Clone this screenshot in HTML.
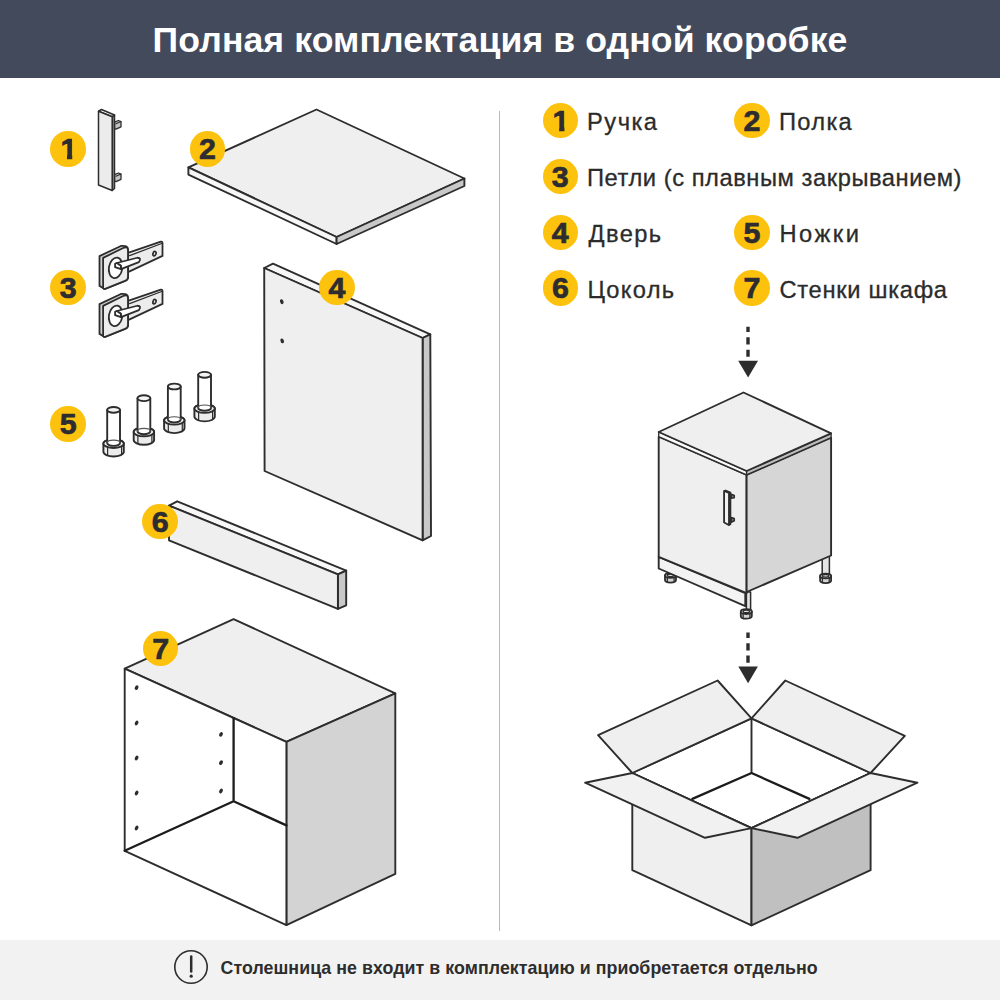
<!DOCTYPE html>
<html lang="ru">
<head>
<meta charset="utf-8">
<title>Полная комплектация в одной коробке</title>
<style>
html,body{margin:0;padding:0;}
body{width:1000px;height:1000px;position:relative;overflow:hidden;background:#fff;font-family:"Liberation Sans",sans-serif;color:#2b2b2b;}
.hdr{position:absolute;left:0;top:0;width:1000px;height:78px;background:#434a5c;}
.hdr h1{position:absolute;left:0;top:0;width:1000px;margin:0;text-align:center;color:#fff;font-weight:bold;font-size:35.6px;line-height:81.5px;letter-spacing:0.1px;}
.ftr{position:absolute;left:0;top:940px;width:1000px;height:60px;background:#f2f2f2;}
.ftr p{position:absolute;left:220.5px;top:0;margin:0;font-weight:bold;font-size:17.8px;line-height:57px;color:#2d2d2d;white-space:nowrap;letter-spacing:0.06px;}
.divider{position:absolute;left:499px;top:111px;width:1px;height:820px;background:#b8b8b8;}
.badge{position:absolute;width:35.4px;height:35.4px;margin:-17.7px 0 0 -17.7px;border-radius:50%;background:#fcc20e;color:#2c2c31;font-weight:bold;font-size:30.4px;line-height:35px;text-align:center;-webkit-text-stroke:0.7px #2c2c31;}
.badge .d1{display:inline-block;height:35px;margin-left:1.5px;clip-path:polygon(0 0,70% 0,70% 100%,39% 100%,39% 23.8px,0 23.8px);}
.lbl{position:absolute;font-size:23.7px;line-height:28px;color:#2b2b2b;white-space:nowrap;letter-spacing:0.56px;margin-left:-2px;-webkit-text-stroke:0.3px #2b2b2b;}
svg.art{position:absolute;left:0;top:0;}
</style>
</head>
<body>
<div class="hdr"><h1>Полная комплектация в одной коробке</h1></div>
<div class="divider"></div>

<svg class="art" width="1000" height="1000" viewBox="0 0 1000 1000" fill="none" stroke="#2d2d2d" stroke-width="1.9" stroke-linejoin="round" stroke-linecap="round">
<!--ARTL-->
<!-- 1 handle -->
<g id="handle" stroke-width="1.5">
<path d="M114.5 122.2 L118.5 120.5 L121 121.5 L121 126.8 L116 129.2 L114.5 128.5 Z" fill="#c4c4c4" stroke-width="1.3"/>
<path d="M116 123.8 L121 121.6" stroke-width="1.1"/>
<path d="M114.5 174.7 L118.5 173 L121 174 L121 179.3 L116 181.7 L114.5 181 Z" fill="#c4c4c4" stroke-width="1.3"/>
<path d="M116 176.3 L121 174.1" stroke-width="1.1"/>
<path d="M98.5 111.2 L101.5 109.5 L114.5 115 L112.2 116.8 Z" fill="#f4f4f4"/>
<path d="M112.2 116.8 L114.5 115 L114.5 188.5 L112.2 190.5 Z" fill="#8c8c8c"/>
<path d="M98.5 111.2 L112.2 116.8 L112.2 190.5 L98.5 185 Z" fill="#ececec"/>
</g>
<!-- 2 shelf -->
<g id="shelf">
<path d="M188.4 167.4 L316.5 109.5 L464.4 178.5 L336.6 237 Z" fill="#efefef"/>
<path d="M188.4 167.4 L336.6 237 L336.6 244 L188.4 174.6 Z" fill="#f7f7f7"/>
<path d="M336.6 237 L464.4 178.5 L464.4 186 L336.6 244 Z" fill="#c8c8c8"/>
</g>
<!-- 4 door -->
<g id="door">
<path d="M264.2 268 L273 263.6 L430.3 334.3 L422.6 338 Z" fill="#f7f7f7"/>
<path d="M422.6 338 L430.3 334.3 L431 536 L422.6 540.3 Z" fill="#c8c8c8"/>
<path d="M264.2 268 L422.6 338 L422.6 540.3 L264.6 471 Z" fill="#efefef"/>
<ellipse cx="281.8" cy="301.7" rx="1.7" ry="2.5" fill="#2d2d2d" stroke="none" transform="rotate(-20 281.8 301.7)"/>
<ellipse cx="282.2" cy="340.9" rx="1.7" ry="2.5" fill="#2d2d2d" stroke="none" transform="rotate(-20 282.2 340.9)"/>
</g>
<!-- 6 plinth -->
<g id="plinth">
<path d="M169 505.6 L177.2 501.3 L346.2 570.6 L337.9 574.3 Z" fill="#f7f7f7"/>
<path d="M337.9 574.3 L346.2 570.6 L346.2 605.3 L337.9 608.9 Z" fill="#c8c8c8"/>
<path d="M169 505.6 L337.9 574.3 L337.9 608.9 L169 540.3 Z" fill="#efefef"/>
</g>
<!-- 7 carcass -->
<g id="carcass">
<path d="M124.7 668.6 L233.6 619.1 L395.3 693.4 L286.4 741.9 Z" fill="#efefef"/>
<path d="M286.4 741.9 L395.3 693.4 L395.3 873.9 L286.4 925.1 Z" fill="#d3d3d3"/>
<path d="M124.7 668.6 L286.4 741.9 L286.4 925.1 L124.7 850.8 Z" fill="#ffffff"/>
<path d="M233.6 718.2 L233.6 801.3 M124.7 850.8 L233.6 801.3 L286.4 825.4" stroke-width="2.3" stroke="#1c1c1c"/>
<g fill="#2d2d2d" stroke="none">
<ellipse cx="136.6" cy="687.6" rx="1.7" ry="2.5" transform="rotate(28 136.6 687.6)"/><ellipse cx="136.6" cy="723.0" rx="1.7" ry="2.5" transform="rotate(28 136.6 723.0)"/><ellipse cx="136.6" cy="758.0" rx="1.7" ry="2.5" transform="rotate(28 136.6 758.0)"/><ellipse cx="136.6" cy="793.0" rx="1.7" ry="2.5" transform="rotate(28 136.6 793.0)"/><ellipse cx="136.6" cy="828.0" rx="1.7" ry="2.5" transform="rotate(28 136.6 828.0)"/><ellipse cx="221.0" cy="734.4" rx="1.7" ry="2.5" transform="rotate(28 221.0 734.4)"/><ellipse cx="221.0" cy="762.6" rx="1.7" ry="2.5" transform="rotate(28 221.0 762.6)"/><ellipse cx="221.0" cy="791.0" rx="1.7" ry="2.5" transform="rotate(28 221.0 791.0)"/>
</g>
</g>
<!-- 3 hinges -->
<g id="hinges" stroke-width="1.8">
<path d="M128.00 252.88 L160.85 241.63 Q162.50 241.25 162.50 243.13 L162.50 255.88 L128.00 272.15 Z" fill="#ececec"/>
<path d="M129.65 255.65 L161.60 243.50" stroke-width="1.3"/>
<ellipse cx="154.48" cy="253.63" rx="1.5" ry="2.3" fill="#e4e4e4" stroke-width="1.7" transform="rotate(18 154.48 253.63)"/>
<path d="M99.50 256.10 L120.88 245.98 Q128.00 245.00 128.00 249.50 L128.00 276.88 Q128.00 279.88 125.00 280.85 L104.75 288.95 L99.50 285.88 Z" fill="#cfcfcf"/>
<path d="M103.10 257.90 L123.13 248.00 Q128.00 245.75 128.00 250.63 L128.00 276.88 Q128.00 279.88 125.00 280.85 L105.13 288.80 Q103.10 289.40 103.10 287.38 Z" fill="#ececec"/>
<ellipse cx="115.63" cy="267.88" rx="6.7" ry="10.3" fill="#fff" transform="rotate(10 115.63 267.88)"/>
<path d="M116.75 263.00 L137.38 257.75 Q141.88 257.75 138.88 262.10 L120.88 269.15 L120.88 265.85 Z" fill="#fff"/>
<path d="M116.75 263.00 L120.88 265.85 L120.88 269.15 L115.10 267.13 L115.10 263.75 Z" fill="#fff"/>
<path d="M128.00 300.88 L160.85 289.63 Q162.50 289.25 162.50 291.13 L162.50 303.88 L128.00 320.15 Z" fill="#ececec"/>
<path d="M129.65 303.65 L161.60 291.50" stroke-width="1.3"/>
<ellipse cx="154.48" cy="301.63" rx="1.5" ry="2.3" fill="#e4e4e4" stroke-width="1.7" transform="rotate(18 154.48 301.63)"/>
<path d="M99.50 304.10 L120.88 293.98 Q128.00 293.00 128.00 297.50 L128.00 324.88 Q128.00 327.88 125.00 328.85 L104.75 336.95 L99.50 333.88 Z" fill="#cfcfcf"/>
<path d="M103.10 305.90 L123.13 296.00 Q128.00 293.75 128.00 298.63 L128.00 324.88 Q128.00 327.88 125.00 328.85 L105.13 336.80 Q103.10 337.40 103.10 335.38 Z" fill="#ececec"/>
<ellipse cx="115.63" cy="315.88" rx="6.7" ry="10.3" fill="#fff" transform="rotate(10 115.63 315.88)"/>
<path d="M116.75 311.00 L137.38 305.75 Q141.88 305.75 138.88 310.10 L120.88 317.15 L120.88 313.85 Z" fill="#fff"/>
<path d="M116.75 311.00 L120.88 313.85 L120.88 317.15 L115.10 315.13 L115.10 311.75 Z" fill="#fff"/>
</g>
<!-- 5 legs -->
<g id="legs">
<path d="M194.4 408.6 L194.4 416.6 A10.2 4.8 0 0 0 214.8 416.6 L214.8 408.6 A10.2 4.3 0 0 0 194.4 408.6 Z" fill="#ececec"/>
<ellipse cx="204.6" cy="408.6" rx="10.2" ry="4.3" fill="#f4f4f4"/>
<path d="M198.6 412.1 v8 M212.6 411.4 v8" stroke-width="1.2"/>
<path d="M198.2 374.8 L198.2 407.9 A6.4 2.9 0 0 0 211.0 407.9 L211.0 374.8 Z" fill="#fff"/>
<ellipse cx="204.6" cy="374.8" rx="6.4" ry="2.9" fill="#f4f4f4"/>
<path d="M198.2 407.9 A6.4 2.9 0 0 1 211.0 407.9" stroke-width="1.1" stroke="#555"/>
<path d="M164.1 420.3 L164.1 428.3 A10.2 4.8 0 0 0 184.5 428.3 L184.5 420.3 A10.2 4.3 0 0 0 164.1 420.3 Z" fill="#ececec"/>
<ellipse cx="174.3" cy="420.3" rx="10.2" ry="4.3" fill="#f4f4f4"/>
<path d="M168.3 423.8 v8 M182.3 423.1 v8" stroke-width="1.2"/>
<path d="M167.9 386.5 L167.9 419.6 A6.4 2.9 0 0 0 180.7 419.6 L180.7 386.5 Z" fill="#fff"/>
<ellipse cx="174.3" cy="386.5" rx="6.4" ry="2.9" fill="#f4f4f4"/>
<path d="M167.9 419.6 A6.4 2.9 0 0 1 180.7 419.6" stroke-width="1.1" stroke="#555"/>
<path d="M133.7 432.0 L133.7 440.0 A10.2 4.8 0 0 0 154.1 440.0 L154.1 432.0 A10.2 4.3 0 0 0 133.7 432.0 Z" fill="#ececec"/>
<ellipse cx="143.9" cy="432.0" rx="10.2" ry="4.3" fill="#f4f4f4"/>
<path d="M137.9 435.5 v8 M151.9 434.8 v8" stroke-width="1.2"/>
<path d="M137.5 398.2 L137.5 431.3 A6.4 2.9 0 0 0 150.3 431.3 L150.3 398.2 Z" fill="#fff"/>
<ellipse cx="143.9" cy="398.2" rx="6.4" ry="2.9" fill="#f4f4f4"/>
<path d="M137.5 431.3 A6.4 2.9 0 0 1 150.3 431.3" stroke-width="1.1" stroke="#555"/>
<path d="M103.4 443.7 L103.4 451.7 A10.2 4.8 0 0 0 123.8 451.7 L123.8 443.7 A10.2 4.3 0 0 0 103.4 443.7 Z" fill="#ececec"/>
<ellipse cx="113.6" cy="443.7" rx="10.2" ry="4.3" fill="#f4f4f4"/>
<path d="M107.6 447.2 v8 M121.6 446.5 v8" stroke-width="1.2"/>
<path d="M107.2 409.9 L107.2 443.0 A6.4 2.9 0 0 0 120.0 443.0 L120.0 409.9 Z" fill="#fff"/>
<ellipse cx="113.6" cy="409.9" rx="6.4" ry="2.9" fill="#f4f4f4"/>
<path d="M107.2 443.0 A6.4 2.9 0 0 1 120.0 443.0" stroke-width="1.1" stroke="#555"/>
</g>
<!--/ARTL-->
<!--ARTR-->
<!-- arrows -->
<g id="arrows" stroke="#2d2d2d" stroke-width="3.4" stroke-linecap="butt">
<path d="M748 356.8 L748 326.8" stroke-dasharray="7.1 5.3"/>
<path d="M738.2 360.8 L758 360.8 L748.1 377.4 Z" fill="#2d2d2d" stroke="none"/>
<path d="M748 662.8 L748 632.4" stroke-dasharray="7.2 5.2"/>
<path d="M738.3 666.4 L757.9 666.4 L748.1 683.3 Z" fill="#2d2d2d" stroke="none"/>
</g>
<!-- assembled cabinet -->
<g id="cabinet">
<!-- legs -->
<g id="cablegs">
<path d="M667.5 566.0 V575.5 H673.5 V566.0 Z" fill="#e4e4e4" stroke-width="1.5"/>
<path d="M665.0 575.5 v4.6 a5.5 2.5 0 0 0 11.0 0 v-4.6 Z" fill="#d4d4d4" stroke-width="1.8"/>
<ellipse cx="670.5" cy="575.5" rx="5.5" ry="2.4" fill="#e6e6e6" stroke-width="1.8"/>
<ellipse cx="670.5" cy="575.3" rx="3.3" ry="1.3" fill="none" stroke-width="1.3"/>
<path d="M667.3 577.5 v4.4 M674.1 577.3 v4.4" stroke-width="1.3"/>
<path d="M822.2 555.0 V576.0 H829.4 V555.0 Z" fill="#e4e4e4" stroke-width="1.5"/>
<path d="M820.1 576.0 v4.6 a5.5 2.5 0 0 0 11.0 0 v-4.6 Z" fill="#d4d4d4" stroke-width="1.8"/>
<ellipse cx="825.6" cy="576.0" rx="5.5" ry="2.4" fill="#e6e6e6" stroke-width="1.8"/>
<ellipse cx="825.6" cy="575.8" rx="3.3" ry="1.3" fill="none" stroke-width="1.3"/>
<path d="M822.4 578.0 v4.4 M829.2 577.8 v4.4" stroke-width="1.3"/>
<path d="M746.4 592.0 V611.6 H750.6 V592.0 Z" fill="#e4e4e4" stroke-width="1.5"/>
<path d="M740.8 611.6 v4.6 a5.5 2.5 0 0 0 11.0 0 v-4.6 Z" fill="#d4d4d4" stroke-width="1.8"/>
<ellipse cx="746.3" cy="611.6" rx="5.5" ry="2.4" fill="#e6e6e6" stroke-width="1.8"/>
<ellipse cx="746.3" cy="611.4" rx="3.3" ry="1.3" fill="none" stroke-width="1.3"/>
<path d="M743.1 613.6 v4.4 M749.9 613.4 v4.4" stroke-width="1.3"/>
</g>
<!-- plinth -->
<path d="M658.7 556.8 L745.3 593.2 L745.3 606.2 L658.7 568.5 Z" fill="#f3f3f3"/>
<!-- front door -->
<path d="M658.7 436.7 L746.6 474.9 L746.6 593.2 L658.7 556.8 Z" fill="#efefef"/>
<!-- right side -->
<path d="M746.6 474.9 L831.1 437.7 L831.1 555.5 L746.6 592 Z" fill="#d6d6d6"/>
<!-- top thickness -->
<path d="M658.7 432 L746.6 471 L746.6 474.9 L658.7 436.7 Z" fill="#fafafa" stroke-width="1.3"/>
<path d="M746.6 471 L831.1 433.3 L831.1 437.7 L746.6 474.9 Z" fill="#bdbdbd" stroke-width="1.3"/>
<!-- top -->
<path d="M658.7 432 L743.5 392.5 L831.1 433.3 L746.6 471 Z" fill="#efefef"/>
<!-- handle -->
<path d="M731.2 494.2 L734.3 495.5 L734.3 497.7 L731.2 498.2 Z M731.2 517.6 L734.3 518.4 L734.3 520.8 L731.2 522.2 Z" fill="#777" stroke-width="1.5"/>
<path d="M724.2 491 L725.6 490.4 L730.5 492.4 L730.5 524.2 L728.9 525 L724.2 522.4 Z" fill="#3a3a3a" stroke-width="1.6"/>
<path d="M724.2 491 L728.9 493 L728.9 525 L724.2 522.4 Z" fill="#f2f2f2" stroke-width="1.6"/>
</g>
<!-- box -->
<g id="box">
<!-- interior -->
<path d="M632.3 773 L751.5 718.4 L870.6 773 L751.5 828.1 Z" fill="#ffffff"/>
<path d="M751.5 718.4 L751.5 773"/><path d="M692.4 798.9 L751.5 773 L809.4 798.9" stroke-width="2.3" stroke="#1c1c1c"/>
<!-- back flaps -->
<path d="M632.3 773 L598.1 735.2 L717.6 680.5 L751.5 718.4 Z" fill="#efefef"/>
<path d="M751.5 718.4 L785.3 680.5 L904.8 735.9 L870.6 773 Z" fill="#efefef"/>
<!-- faces -->
<path d="M632.3 773 L751.5 828.1 L751.5 925.3 L632.3 870.2 Z" fill="#efefef"/>
<path d="M751.5 828.1 L870.6 773 L870.6 870.2 L751.5 925.3 Z" fill="#c0c0c0"/>
<!-- front flaps -->
<path d="M632.3 773 L585.1 782.7 L705 837.8 L751.5 828.1 Z" fill="#f1f1f1"/>
<path d="M870.6 773 L917.4 782.7 L797.5 837.8 L751.5 828.1 Z" fill="#f1f1f1"/>
</g>

<!--/ARTR-->
</svg>

<!-- left badges -->
<div class="badge" style="left:68.1px;top:149px;"><span class="d1">1</span></div>
<div class="badge" style="left:207.5px;top:149px;">2</div>
<div class="badge" style="left:68.1px;top:287.6px;">3</div>
<div class="badge" style="left:337px;top:287.4px;">4</div>
<div class="badge" style="left:68.1px;top:424.1px;">5</div>
<div class="badge" style="left:160.1px;top:521.4px;">6</div>
<div class="badge" style="left:160.6px;top:648.7px;">7</div>

<!-- legend -->
<div class="badge" style="left:560.3px;top:120.4px;"><span class="d1">1</span></div><div class="lbl" style="left:589px;top:108px;letter-spacing:1.5px;">Ручка</div>
<div class="badge" style="left:752px;top:120.4px;">2</div><div class="lbl" style="left:781px;top:108px;letter-spacing:1.3px;">Полка</div>
<div class="badge" style="left:560.3px;top:176.4px;">3</div><div class="lbl" style="left:589px;top:164px;">Петли (с плавным закрыванием)</div>
<div class="badge" style="left:560.3px;top:232.2px;">4</div><div class="lbl" style="left:590.5px;top:219.8px;letter-spacing:1.4px;">Дверь</div>
<div class="badge" style="left:752px;top:232.2px;">5</div><div class="lbl" style="left:781.5px;top:219.8px;letter-spacing:2.5px;">Ножки</div>
<div class="badge" style="left:560.4px;top:287.8px;">6</div><div class="lbl" style="left:589.5px;top:275.6px;letter-spacing:1.3px;">Цоколь</div>
<div class="badge" style="left:752px;top:287.8px;">7</div><div class="lbl" style="left:781.5px;top:275.6px;letter-spacing:0.7px;">Стенки шкафа</div>

<div class="ftr">
<svg width="40" height="40" viewBox="0 0 40 40" style="position:absolute;left:171.4px;top:7.2px;"><circle cx="20" cy="20" r="16.2" fill="none" stroke="#2d2d2d" stroke-width="1.6"/><path d="M20.2 9.6 V24.4" stroke="#2d2d2d" stroke-width="2.5" stroke-linecap="round" fill="none"/><circle cx="20.2" cy="29.2" r="1.6" fill="#2d2d2d"/></svg>
<p>Столешница не входит в комплектацию и приобретается отдельно</p>
</div>
</body>
</html>
